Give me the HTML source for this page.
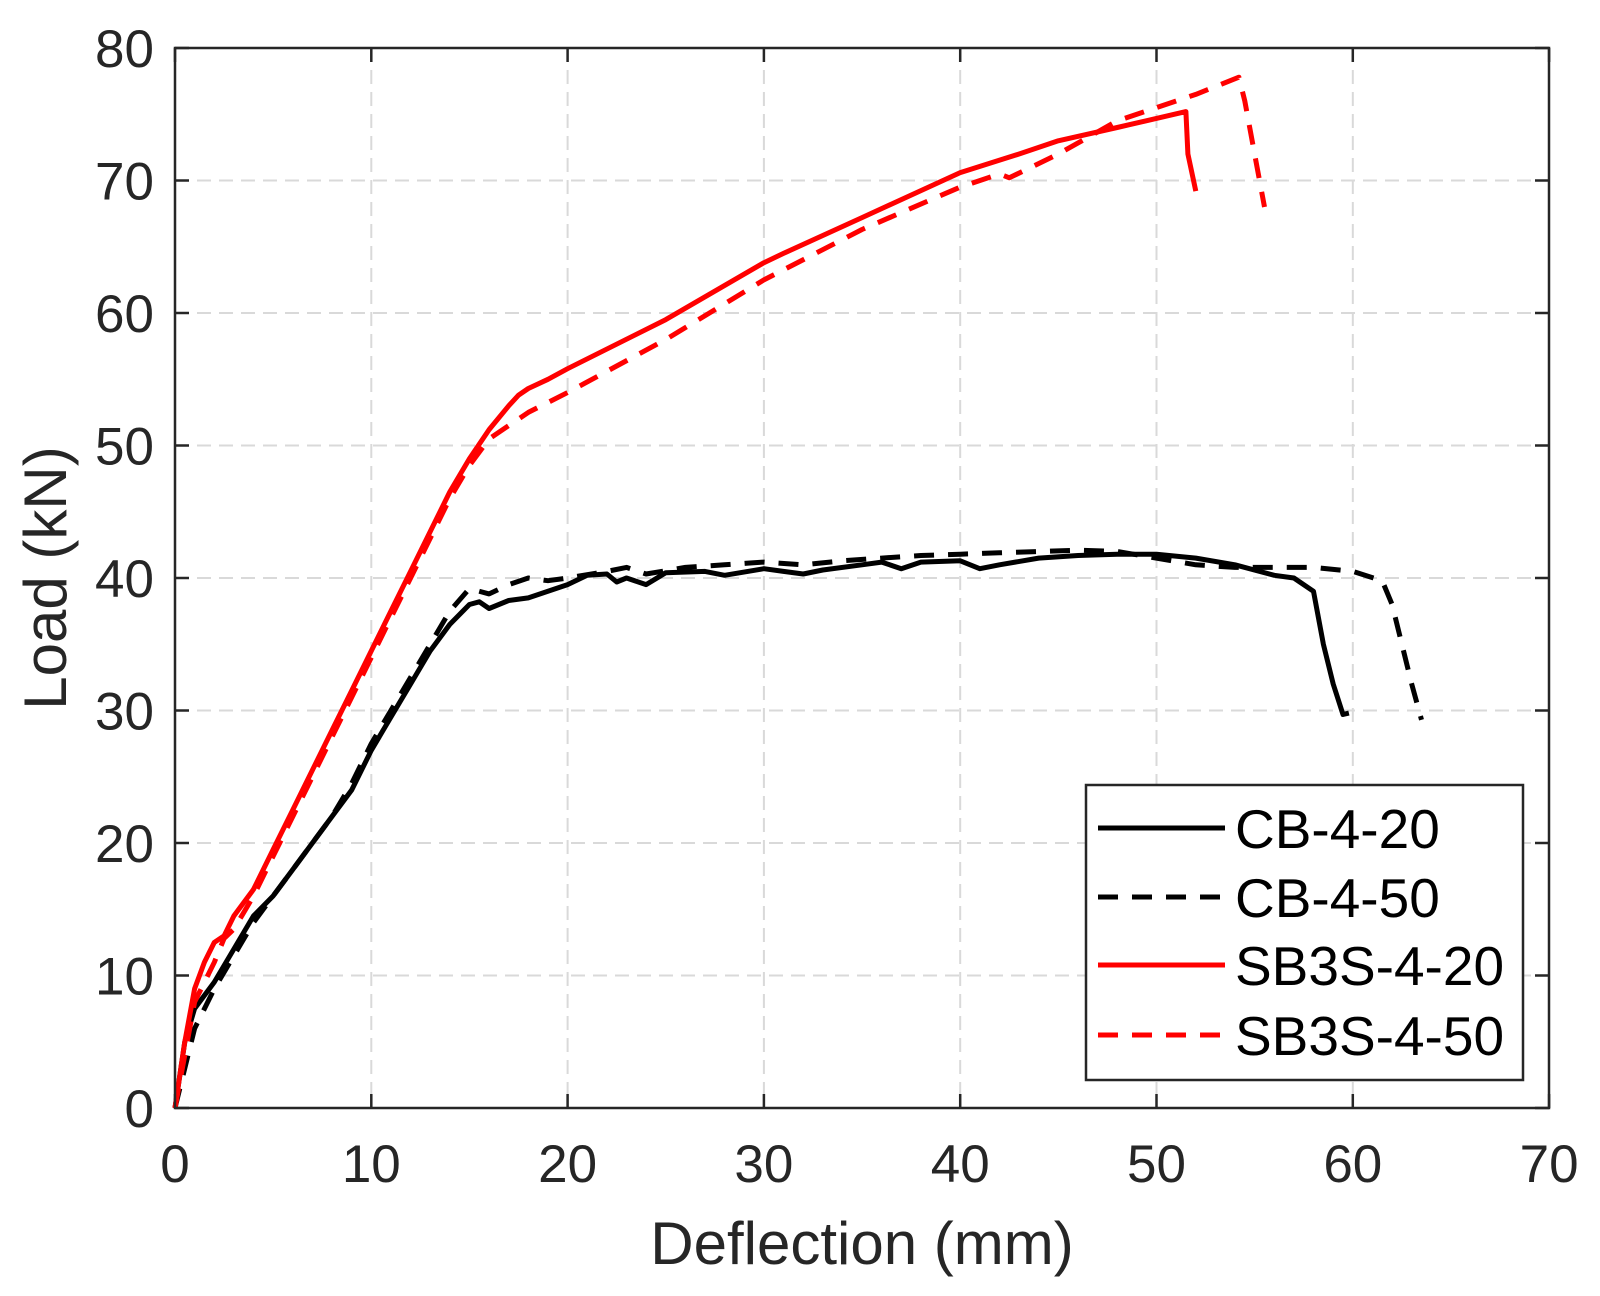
<!DOCTYPE html>
<html><head><meta charset="utf-8"><style>
html,body{margin:0;padding:0;background:#fff;}
svg{display:block;font-family:"Liberation Sans",Arial,sans-serif;}
</style></head><body>
<svg id="s" width="1600" height="1296" viewBox="0 0 1600 1296" xmlns="http://www.w3.org/2000/svg">
<rect width="1600" height="1296" fill="#fff"/>
<g id="grid" stroke="#d9d9d9" stroke-width="2" stroke-dasharray="14,8"></g>
<g id="ticks" stroke="#262626" stroke-width="2.5"></g>
<g id="lbl" font-size="53" fill="#262626"></g>
<g id="series" fill="none" stroke-width="5" stroke-linejoin="round"></g>
<rect x="175" y="48" width="1374" height="1060" fill="none" stroke="#262626" stroke-width="2.5"/>
<text x="862" y="1264" font-size="60" text-anchor="middle" fill="#262626">Deflection (mm)</text>
<text transform="translate(66,578) rotate(-90)" font-size="60" text-anchor="middle" fill="#262626">Load (kN)</text>
<rect x="1086" y="785" width="437" height="295" fill="#fff" stroke="#262626" stroke-width="2.5"/>
<g font-size="55" fill="#000">
<line x1="1098" y1="828" x2="1225" y2="828" stroke="#000" stroke-width="5"/>
<text x="1235" y="848">CB-4-20</text>
<line x1="1098" y1="897" x2="1225" y2="897" stroke="#000" stroke-width="5" stroke-dasharray="20,14"/>
<text x="1235" y="917">CB-4-50</text>
<line x1="1098" y1="965" x2="1225" y2="965" stroke="#f00" stroke-width="5"/>
<text x="1235" y="985">SB3S-4-20</text>
<line x1="1098" y1="1035" x2="1225" y2="1035" stroke="#f00" stroke-width="5" stroke-dasharray="20,14"/>
<text x="1235" y="1055">SB3S-4-50</text>
</g>
</svg>
<script>
var X0=175,SX=19.63,Y0=1108,SY=13.25,NS="http://www.w3.org/2000/svg";
function px(x){return X0+x*SX}function py(y){return Y0-y*SY}
function el(t,a,p){var e=document.createElementNS(NS,t);for(var k in a)e.setAttribute(k,a[k]);document.getElementById(p).appendChild(e);return e}
for(var i=1;i<7;i++)el('line',{x1:px(i*10),y1:48,x2:px(i*10),y2:1108},'grid');
for(var j=1;j<8;j++)el('line',{x1:175,y1:py(j*10),x2:1549,y2:py(j*10)},'grid');
for(var i=0;i<=7;i++){el('line',{x1:px(i*10),y1:1108,x2:px(i*10),y2:1094},'ticks');el('line',{x1:px(i*10),y1:48,x2:px(i*10),y2:62},'ticks');
 var t=el('text',{x:px(i*10),y:1182,'text-anchor':'middle'},'lbl');t.textContent=i*10;}
for(var j=0;j<=8;j++){el('line',{x1:175,y1:py(j*10),x2:189,y2:py(j*10)},'ticks');el('line',{x1:1549,y1:py(j*10),x2:1535,y2:py(j*10)},'ticks');
 var t=el('text',{x:154,y:py(j*10)+19,'text-anchor':'end'},'lbl');t.textContent=j*10;}
var S=[
["#000","",[[0,0],[0.5,5],[1,7.5],[2,9.5],[3,12],[4,14.5],[5,16],[6,18],[7,20],[8,22],[9,24],[10,27],[11,29.5],[12,32],[13,34.5],[14,36.5],[15,38],[15.5,38.2],[16,37.7],[17,38.3],[18,38.5],[20,39.5],[21,40.2],[22,40.3],[22.5,39.7],[23,40],[24,39.5],[25,40.4],[27,40.5],[28,40.2],[30,40.7],[31,40.5],[32,40.3],[33,40.6],[35,41],[36,41.2],[37,40.7],[38,41.2],[40,41.3],[41,40.7],[42,41],[44,41.5],[46,41.7],[48,41.8],[50,41.8],[52,41.5],[54,41],[56,40.2],[57,40],[58,39],[58.5,35],[59,32],[59.5,29.7],[59.8,29.8]]],
["#000","20,14",[[0,0],[1,6],[2,9],[3,11.5],[4,14],[5,16],[6,18],[7,20],[8,22],[9,24.5],[10,27.5],[11,30],[12,32.5],[13,35],[14,37.5],[15,39.2],[16,38.8],[17,39.5],[18,40],[19,39.8],[20,40],[22,40.5],[23,40.8],[24,40.3],[26,40.8],[28,41],[30,41.2],[32,41],[34,41.3],[36,41.5],[38,41.7],[40,41.8],[42,41.9],[44,42],[46,42.1],[48,42],[50,41.5],[52,41],[54,40.8],[56,40.8],[58,40.8],[60,40.5],[61.5,39.8],[62,38],[62.5,35],[63,32],[63.5,29.3]]],
["#f00","",[[0,0],[0.5,5],[1,9],[1.5,11],[2,12.5],[2.5,13],[3,14.5],[4,16.5],[5,19.5],[6,22.5],[7,25.5],[8,28.5],[9,31.5],[10,34.5],[11,37.5],[12,40.5],[13,43.5],[14,46.5],[15,49],[16,51.2],[17,53],[17.5,53.8],[18,54.3],[19,55],[20,55.8],[25,59.5],[30,63.8],[31,64.5],[35,67.2],[40,70.6],[43,72],[45,73],[48,74],[51.5,75.2],[51.6,72],[52,69.2]]],
["#f00","20,14",[[0,0],[1,8],[2,11],[2.5,12.8],[3,13.5],[4,16],[5,19],[6,22],[7,25],[8,28],[9,31],[10,34],[11,37],[12,40],[13,43],[14,46],[15,48.5],[16,50.5],[17,51.5],[18,52.5],[20,54],[25,58],[30,62.5],[35,66.3],[40,69.5],[42,70.5],[42.5,70.2],[45,72],[48,74.5],[50,75.5],[52,76.5],[54.2,77.8],[54.5,76],[55,72],[55.5,68]]]];
S.forEach(function(s){var d=s[2].map(function(p,i){return(i?'L':'M')+px(p[0]).toFixed(1)+','+py(p[1]).toFixed(1)}).join('');
var a={d:d,stroke:s[0]};if(s[1])a['stroke-dasharray']=s[1];el('path',a,'series');});
</script>
</body></html>
